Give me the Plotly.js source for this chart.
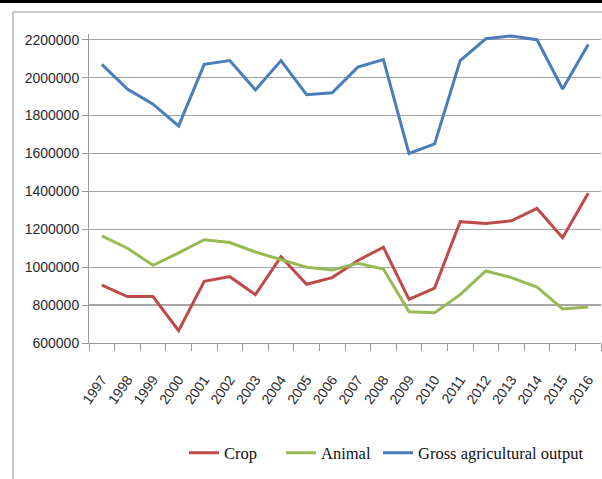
<!DOCTYPE html>
<html>
<head>
<meta charset="utf-8">
<script src="https://cdn.plot.ly/plotly-3.0.1.min.js"></script>
<style>
  html, body { margin: 0; padding: 0; background: #ffffff; }
  #chart { width: 602px; height: 479px; }
</style>
</head>
<body>
<div id="chart"></div>
<script>
// Agricultural output by year
var years = ['1997','1998','1999','2000','2001','2002','2003','2004','2005','2006',
             '2007','2008','2009','2010','2011','2012','2013','2014','2015','2016'];

var crop = [905000, 845000, 845000, 665000, 925000, 950000, 855000, 1055000, 910000, 945000,
            1035000, 1105000, 830000, 890000, 1240000, 1230000, 1245000, 1310000, 1155000, 1390000];

var animal = [1165000, 1100000, 1010000, 1075000, 1145000, 1130000, 1080000, 1040000, 1000000, 985000,
              1020000, 990000, 765000, 760000, 855000, 980000, 945000, 895000, 780000, 790000];

var gross = [2070000, 1940000, 1860000, 1745000, 2070000, 2090000, 1935000, 2090000, 1910000, 1920000,
             2055000, 2095000, 1600000, 1650000, 2090000, 2205000, 2220000, 2200000, 1940000, 2175000];

var yTicks = [600000, 800000, 1000000, 1200000, 1400000, 1600000, 1800000, 2000000, 2200000];

// plot area in pixels, used to place the frame and legends in paper units
var L = 89, R = 1, T = 34, B = 136, W = 602, H = 479;
var pw = W - L - R, ph = H - T - B;
function px(x) { return (x - L) / pw; }
function py(y) { return (H - B - y) / ph; }

var line = function (name, values, color, legendId) {
  return {
    type: 'scatter', mode: 'lines', name: name,
    x: years, y: values,
    legend: legendId,
    line: { color: color, width: 3 }
  };
};

var data = [
  line('Crop', crop, '#be4b48', 'legend'),
  line('Animal', animal, '#98b954', 'legend2'),
  line('Gross agricultural output', gross, '#4a7ebb', 'legend3')
];

var tickFont = { family: '"Liberation Sans", Arial, sans-serif', size: 14, color: '#2a2a2a' };
var legendFont = { family: '"Liberation Serif", "Times New Roman", serif', size: 16.5, color: '#111111' };

function legendAt(xPix) {
  return {
    orientation: 'h',
    x: px(xPix), xanchor: 'left',
    y: py(453), yanchor: 'middle',
    font: legendFont,
    bgcolor: 'rgba(0,0,0,0)',
    itemwidth: 30
  };
}

var layout = {
  width: W, height: H,
  margin: { l: L, r: R, t: T, b: B, pad: 0 },
  paper_bgcolor: '#ffffff', plot_bgcolor: '#ffffff',
  showlegend: true,
  xaxis: {
    type: 'category',
    range: [-0.5, 19.5],
    showgrid: false, zeroline: false,
    showline: true, linecolor: '#9a9a9a', linewidth: 1,
    ticks: 'outside', ticklen: 7, tickcolor: '#9a9a9a', tickwidth: 1,
    tickson: 'boundaries',
    tickangle: -55,
    ticklabelstandoff: 22,
    tickfont: tickFont
  },
  yaxis: {
    // a little headroom above the top gridline so peaks are not cut
    range: [600000, 2230000],
    tickvals: yTicks,
    ticktext: yTicks.map(String),
    showgrid: true, gridcolor: '#a6a6a6', gridwidth: 1.2,
    zeroline: false,
    showline: true, linecolor: '#9a9a9a', linewidth: 1,
    ticks: 'outside', ticklen: 6, tickcolor: '#9a9a9a', tickwidth: 1,
    tickfont: tickFont
  },
  legend: legendAt(184),
  legend2: legendAt(281),
  legend3: legendAt(378),
  shapes: [
    // heavy rule along the top edge
    { type: 'line', xref: 'paper', yref: 'paper', x0: px(0), x1: px(602), y0: py(1.5), y1: py(1.5),
      line: { color: '#000000', width: 3 } },
    // light frame around the chart
    { type: 'line', xref: 'paper', yref: 'paper', x0: px(13), x1: px(602), y0: py(12), y1: py(12),
      line: { color: '#c6c6c6', width: 2 } },
    { type: 'line', xref: 'paper', yref: 'paper', x0: px(13), x1: px(13), y0: py(12), y1: py(479),
      line: { color: '#c6c6c6', width: 2 } }
  ]
};

Plotly.newPlot('chart', data, layout, { displayModeBar: false, staticPlot: true });
</script>
</body>
</html>
